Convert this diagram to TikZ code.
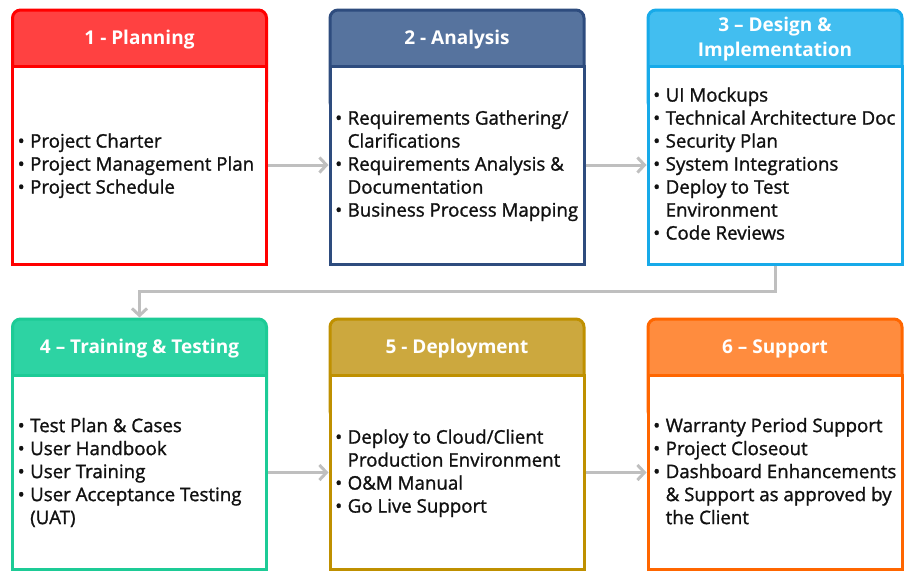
\documentclass[tikz,border=0pt]{standalone}
\usepackage{fontspec}
\setmainfont{Open Sans}
\newfontfamily\listfont{Open Sans}[FakeBold=1.2]
\usetikzlibrary{arrows.meta}

\definecolor{redline}{HTML}{FF0000}  \definecolor{redfill}{HTML}{FF4141}
\definecolor{blueline}{HTML}{2E4C7E} \definecolor{bluefill}{HTML}{56739E}
\definecolor{cyanline}{HTML}{17AAE9} \definecolor{cyanfill}{HTML}{42BEF0}
\definecolor{tealline}{HTML}{1DCB96} \definecolor{tealfill}{HTML}{2DD3A3}
\definecolor{goldline}{HTML}{BF9000} \definecolor{goldfill}{HTML}{CCA83E}
\definecolor{orngline}{HTML}{FF6600} \definecolor{orngfill}{HTML}{FF8C3E}
\definecolor{arrowgray}{HTML}{BFBFBF}
\definecolor{inktext}{HTML}{111111}

\newcommand{\bl}{\makebox[12.5pt][l]{\textbullet}}

\tikzset{
  hdr/.style={rounded corners=8pt, line width=3pt, minimum width=254pt,
    minimum height=100pt, inner sep=0pt},
  bodybox/.style={fill=white, line width=3pt, minimum width=254pt,
    minimum height=#1, inner sep=0pt},
  stagetitle/.style={text=white, inner sep=0pt, align=center,
    font=\fontsize{19}{25}\selectfont\bfseries},
  items/.style={anchor=west, inner sep=0pt, text=inktext,
    font=\listfont\fontsize{18.7}{23}\selectfont},
  flow/.style={draw=arrowgray, line width=3pt,
    -{Straight Barb[length=7pt,width=15pt]}},
}

% #1 name, #2 centre x, #3 header top (path), #4 divider y, #5 body bottom,
% #6 line colour, #7 fill colour, #8 title, #9 list of items
\newcommand{\stagebox}[9]{%
  \node[hdr, draw=#6, fill=#7, anchor=north] (#1h) at (#2, #3) {};
  \node[bodybox=#5-#4 pt, draw=#6, anchor=north] (#1) at (#2, #4) {};
  \node[stagetitle] (#1t) at (#2, {(#3+#4)/2+3}) {#8};
  \node[items] (#1l) at (#2-122, {(#4+#5)/2+2.5}) {%
    \begin{tabular}{@{}l@{}l@{}}#9\end{tabular}};
}

\begin{document}
\begin{tikzpicture}[x=1pt, y=-1pt]
\useasboundingbox (0,0) rectangle (911,571);

\stagebox{s1}{139.5}{8.5}{64.5}{262.5}{redline}{redfill}{1 - Planning}{%
  \bl & Project Charter\\
  \bl & Project Management Plan\\
  \bl & Project Schedule}

\stagebox{s2}{457}{8.5}{64.5}{262.5}{blueline}{bluefill}{2 - Analysis}{%
  \bl & Requirements Gathering/\\
      & Clarifications\\
  \bl & Requirements Analysis \&\\
      & Documentation\\
  \bl & Business Process Mapping}

\stagebox{s3}{775}{8.5}{64.5}{262.5}{cyanline}{cyanfill}{3 – Design \&\\Implementation}{%
  \bl & UI Mockups\\
  \bl & Technical Architecture Doc\\
  \bl & Security Plan\\
  \bl & System Integrations\\
  \bl & Deploy to Test\\
      & Environment\\
  \bl & Code Reviews}

\stagebox{s4}{139.5}{317.5}{374}{568}{tealline}{tealfill}{4 – Training \& Testing}{%
  \bl & Test Plan \& Cases\\
  \bl & User Handbook\\
  \bl & User Training\\
  \bl & User Acceptance Testing\\
      & (UAT)}

\stagebox{s5}{457}{317.5}{374}{568}{goldline}{goldfill}{5 - Deployment}{%
  \bl & Deploy to Cloud/Client\\
      & Production Environment\\
  \bl & O\&M Manual\\
  \bl & Go Live Support}

\stagebox{s6}{775}{317.5}{374}{568}{orngline}{orngfill}{6 – Support}{%
  \bl & Warranty Period Support\\
  \bl & Project Closeout\\
  \bl & Dashboard Enhancements\\
      & \& Support as approved by\\
      & the Client}

% connectors between the stages
\draw[flow] (s1) -- (s2);
\draw[flow] (s2) -- (s3);
\draw[flow] (s3.south) -- ++(0,26) -| (s4h.north);
\draw[flow] (s4) -- (s5);
\draw[flow] (s5) -- (s6);
\end{tikzpicture}
\end{document}
